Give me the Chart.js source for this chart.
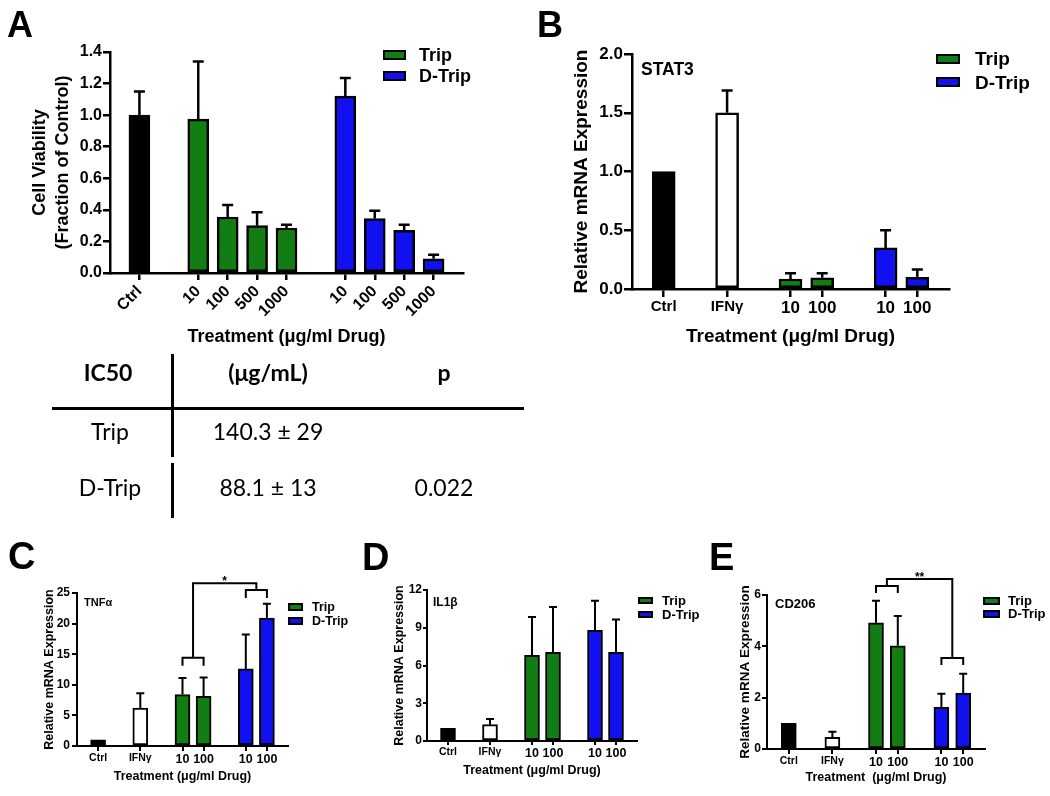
<!DOCTYPE html>
<html><head><meta charset="utf-8">
<script src="https://cdn.jsdelivr.net/npm/chart.js@4.4.1/dist/chart.umd.min.js"></script>
<style>
html,body{margin:0;padding:0;background:#fff;}
#page{position:relative;width:1050px;height:796px;overflow:hidden;background:#fff;}
canvas{position:absolute;left:0;top:0;}
.t{position:absolute;white-space:nowrap;font-family:"Liberation Sans",Arial,sans-serif;font-weight:bold;color:#000;}
.ln{position:absolute;background:#000;}
.box{position:absolute;box-sizing:border-box;border:2px solid #000;}
</style></head><body><div id="page"></div>
<script>
// ================= DATA =================
const ctrlLabel = 'Ctrl';
const ifnLabel = 'IFNγ';
const doseLabelsA = ['10', '100', '500', '1000'];
const doseLabels = ['10', '100'];

// Panel A – cell viability (fraction of control)
const aCtrl = [1.00];
const aCtrlErr = [0.15];
const aTrip = [0.975, 0.355, 0.30, 0.285];
const aTripErr = [0.365, 0.075, 0.085, 0.02];
const aDTrip = [1.12, 0.345, 0.27, 0.09];
const aDTripErr = [0.115, 0.05, 0.035, 0.025];
const aYTicks = [0, 0.2, 0.4, 0.6, 0.8, 1.0, 1.2, 1.4];

// Panel B – STAT3
const bCtrl = [1.0];
const bIFN = [1.5];
const bIFNErr = [0.19];
const bTrip = [0.085, 0.095];
const bTripErr = [0.05, 0.04];
const bDTrip = [0.35, 0.10];
const bDTripErr = [0.15, 0.065];
const bYTicks = [0, 0.5, 1.0, 1.5, 2.0];

// Panel C – TNFα
const cCtrl = [1.0];
const cIFN = [6.2];
const cIFNErr = [2.4];
const cTrip = [8.4, 8.1];
const cTripErr = [2.7, 3.1];
const cDTrip = [12.6, 20.9];
const cDTripErr = [5.6, 2.35];
const cYTicks = [0, 5, 10, 15, 20, 25];

// Panel D – IL1β
const dCtrl = [1.0];
const dIFN = [1.3];
const dIFNErr = [0.45];
const dTrip = [6.8, 7.05];
const dTripErr = [3.05, 3.6];
const dDTrip = [8.8, 7.05];
const dDTripErr = [2.35, 2.6];
const dYTicks = [0, 3, 6, 9, 12];

// Panel E – CD206
const eCtrl = [1.0];
const eIFN = [0.45];
const eIFNErr = [0.22];
const eTrip = [4.92, 4.02];
const eTripErr = [0.86, 1.16];
const eDTrip = [1.62, 2.18];
const eDTripErr = [0.53, 0.75];
const eYTicks = [0, 2, 4, 6];

// IC50 table
const tableHeader = ['IC50', '(μg/mL)', 'p'];
const tableRows = [['Trip', '140.3 ± 29', ''], ['D-Trip', '88.1 ± 13', '0.022']];

// ================= STYLE =================
const FONT = '"Liberation Sans", Arial, Helvetica, sans-serif';
const TFONT = 'Lato, "Open Sans", sans-serif';
const BLACK = '#000000', WHITE = '#ffffff', GREEN = '#127d12', BLUE = '#1010f0';
Chart.defaults.font.family = FONT;
Chart.defaults.color = '#000';

const page = document.getElementById('page');

function addText(txt, x, yc, size, o) {
  o = o || {};
  const d = document.createElement('div');
  d.className = 't';
  d.textContent = txt;
  d.style.fontSize = size + 'px';
  d.style.lineHeight = size + 'px';
  d.style.top = (yc - size * (o.k != null ? o.k : 0.49)) + 'px';
  if (o.family) d.style.fontFamily = o.family;
  if (o.weight) d.style.fontWeight = o.weight;
  if (o.align === 'center') { d.style.left = (x - 150) + 'px'; d.style.width = '300px'; d.style.textAlign = 'center'; }
  else d.style.left = x + 'px';
  page.appendChild(d);
}
function addLine(x, y, w, h) {
  const d = document.createElement('div');
  d.className = 'ln';
  d.style.left = x + 'px'; d.style.top = y + 'px'; d.style.width = w + 'px'; d.style.height = h + 'px';
  page.appendChild(d);
}

function buildData(groups) {
  const labels = [''];
  const starts = [];
  groups.forEach(g => {
    starts.push(labels.length);
    g.ticks.forEach(t => labels.push(t));
    labels.push('');
  });
  const datasets = groups.map((g, gi) => {
    const data = labels.map(() => null);
    const errors = labels.map(() => null);
    g.values.forEach((v, k) => {
      data[starts[gi] + k] = v;
      errors[starts[gi] + k] = g.errors ? g.errors[k] : null;
    });
    return { label: g.name, data, errors, backgroundColor: g.fill, borderColor: '#000', inLegend: !!g.legend };
  });
  return { labels, datasets };
}

const errorBarPlugin = {
  id: 'errorBars',
  afterDatasetsDraw(chart, args, opts) {
    const ctx = chart.ctx, ys = chart.scales.y;
    ctx.save();
    ctx.strokeStyle = '#000';
    ctx.lineWidth = opts.width;
    chart.data.datasets.forEach((ds, i) => {
      const meta = chart.getDatasetMeta(i);
      ds.data.forEach((v, j) => {
        const e = ds.errors[j];
        if (v == null || !e) return;
        const el = meta.data[j];
        const top = ys.getPixelForValue(v + e);
        ctx.beginPath();
        ctx.moveTo(el.x, el.y);
        ctx.lineTo(el.x, top);
        ctx.moveTo(el.x - opts.cap, top);
        ctx.lineTo(el.x + opts.cap, top);
        ctx.stroke();
      });
    });
    ctx.restore();
  }
};

const bracketPlugin = {
  id: 'brackets',
  afterDatasetsDraw(chart, args, opts) {
    if (!opts || !opts.pairs) return;
    const ctx = chart.ctx, ys = chart.scales.y, xs = chart.scales.x;
    ctx.save();
    ctx.strokeStyle = '#000';
    ctx.fillStyle = '#000';
    ctx.lineWidth = opts.width;
    opts.pairs.forEach(pr => {
      const centers = pr.groups.map(g => {
        const ds = chart.data.datasets.find(d => d.label === g.name);
        const idx = ds.data.map((v, i) => v == null ? -1 : i).filter(i => i >= 0);
        const x1 = xs.getPixelForValue(idx[0]);
        const x2 = xs.getPixelForValue(idx[idx.length - 1]);
        const yy = ys.getPixelForValue(g.level);
        ctx.beginPath();
        ctx.moveTo(x1, yy + opts.drop); ctx.lineTo(x1, yy); ctx.lineTo(x2, yy); ctx.lineTo(x2, yy + opts.drop);
        ctx.stroke();
        return { x: (x1 + x2) / 2, y: yy };
      });
      const yt = ys.getPixelForValue(pr.top);
      ctx.beginPath();
      ctx.moveTo(centers[0].x, centers[0].y); ctx.lineTo(centers[0].x, yt);
      ctx.lineTo(centers[1].x, yt); ctx.lineTo(centers[1].x, centers[1].y);
      ctx.stroke();
      ctx.font = 'bold ' + opts.fontSize + 'px ' + FONT;
      ctx.textAlign = 'center';
      ctx.textBaseline = 'alphabetic';
      ctx.fillText(pr.label, (centers[0].x + centers[1].x) / 2, yt + opts.textDy);
    });
    ctx.restore();
  }
};

function makeChart(p) {
  const cv = document.createElement('canvas');
  cv.width = 1050; cv.height = 796;
  cv.style.width = '1050px'; cv.style.height = '796px';
  page.appendChild(cv);
  const { labels, datasets } = buildData(p.groups);
  datasets.forEach(ds => Object.assign(ds, {
    borderWidth: p.barBorder, borderSkipped: false, barThickness: p.barW, grouped: false
  }));
  const [x0, x1, y0, y1] = p.area;
  const bf = (size, lh) => ({ family: FONT, weight: 'bold', size, lineHeight: lh || 1.2 });
  const chart = new Chart(cv, {
    type: 'bar',
    data: { labels, datasets },
    options: {
      responsive: false, animation: false, devicePixelRatio: 1,
      layout: { padding: { left: p.L, top: y0, right: 1050 - x1, bottom: 796 - p.B } },
      plugins: {
        legend: { display: false }, tooltip: { enabled: false },
        errorBars: { width: p.errW, cap: p.cap },
        brackets: p.brackets || {}
      },
      scales: {
        x: {
          type: 'category', offset: false,
          grid: {
            display: true, drawOnChartArea: false, drawTicks: true, offset: false,
            tickLength: p.tickLen, lineWidth: p.axisW,
            color: ctx => labels[ctx.index] ? '#000' : 'rgba(0,0,0,0)'
          },
          border: { display: true, color: '#000', width: p.axisW },
          ticks: {
            autoSkip: false, color: '#000', padding: p.xTickPad,
            maxRotation: p.rot, minRotation: p.rot,
            font: ctx => bf(/^\d+$/.test(labels[ctx.index] || '') ? p.xTickNum : p.xTickTxt)
          },
          title: { display: true, text: p.xTitle, color: '#000', font: bf(p.xTitleSize), padding: 0 },
          afterFit: s => { s.height = p.B - y1; }
        },
        y: {
          min: 0, max: p.yTicks[p.yTicks.length - 1],
          afterBuildTicks: s => { s.ticks = p.yTicks.map(v => ({ value: v })); },
          grid: { display: true, drawOnChartArea: false, drawTicks: true, tickLength: p.tickLen, lineWidth: p.axisW, color: '#000' },
          border: { display: true, color: '#000', width: p.axisW },
          ticks: { color: '#000', padding: p.yTickPad, font: bf(p.yTickSize), callback: v => p.yFmt(v) },
          title: {
            display: true, text: p.yTitle, color: '#000',
            font: bf(p.yTitleSize, p.yTitleLH || 1.2), padding: { top: p.yTitlePad, bottom: 0 }
          },
          afterFit: s => { s.width = x0 - p.L; }
        }
      }
    },
    plugins: [errorBarPlugin, bracketPlugin]
  });
  // HTML legend built from the chart's datasets
  const lg = p.legend;
  chart.data.datasets.filter(d => d.inLegend).forEach((d, k) => {
    const b = document.createElement('div');
    b.className = 'box';
    b.style.left = lg.x + 'px';
    b.style.top = (lg.y + k * lg.gap) + 'px';
    b.style.width = lg.w + 'px';
    b.style.height = lg.h + 'px';
    b.style.borderWidth = lg.bw + 'px';
    b.style.background = d.backgroundColor;
    page.appendChild(b);
    addText(d.label, lg.tx, lg.y + k * lg.gap + lg.h / 2, lg.size);
  });
  return chart;
}

const fmt1 = v => v.toFixed(1);
const fmt0 = v => String(v);

// ----- Panel A -----
makeChart({
  groups: [
    { name: 'Ctrl', ticks: [ctrlLabel], values: aCtrl, errors: aCtrlErr, fill: BLACK },
    { name: 'Trip', ticks: doseLabelsA, values: aTrip, errors: aTripErr, fill: GREEN, legend: true },
    { name: 'D-Trip', ticks: doseLabelsA, values: aDTrip, errors: aDTripErr, fill: BLUE, legend: true }
  ],
  area: [110, 463, 52, 273], L: 20, B: 348,
  yTicks: aYTicks, yFmt: fmt1, yTickSize: 16, yTickPad: 1,
  yTitle: ['Cell Viability', '(Fraction of Control)'], yTitleSize: 18, yTitleLH: 1.3, yTitlePad: 8.3,
  xTitle: 'Treatment (μg/ml Drug)', xTitleSize: 18, xTickNum: 16, xTickTxt: 16, xTickPad: 2, rot: 45,
  tickLen: 7, axisW: 2.5, barBorder: 2.5, barW: 21, errW: 2.5, cap: 5.5,
  legend: { x: 383, y: 50, gap: 21, w: 23, h: 10, bw: 2, tx: 419, size: 18 }
});

// ----- Panel B -----
makeChart({
  groups: [
    { name: 'Ctrl', ticks: [ctrlLabel], values: bCtrl, errors: null, fill: BLACK },
    { name: 'IFNγ', ticks: [ifnLabel], values: bIFN, errors: bIFNErr, fill: WHITE },
    { name: 'Trip', ticks: doseLabels, values: bTrip, errors: bTripErr, fill: GREEN, legend: true },
    { name: 'D-Trip', ticks: doseLabels, values: bDTrip, errors: bDTripErr, fill: BLUE, legend: true }
  ],
  area: [632, 949, 54, 289], L: 560, B: 348.4,
  yTicks: bYTicks, yFmt: fmt1, yTickSize: 17, yTickPad: 1,
  yTitle: 'Relative mRNA Expression', yTitleSize: 19, yTitlePad: 10.6,
  xTitle: 'Treatment (μg/ml Drug)', xTitleSize: 19, xTickNum: 17, xTickTxt: 15, xTickPad: 1, rot: 0,
  tickLen: 8, axisW: 2.5, barBorder: 2.5, barW: 23, errW: 2.5, cap: 5.5,
  legend: { x: 936, y: 53.5, gap: 23.5, w: 24, h: 10, bw: 2, tx: 975, size: 19 }
});

// ----- Panel C -----
makeChart({
  groups: [
    { name: 'Ctrl', ticks: [ctrlLabel], values: cCtrl, errors: null, fill: BLACK },
    { name: 'IFNγ', ticks: [ifnLabel], values: cIFN, errors: cIFNErr, fill: WHITE },
    { name: 'Trip', ticks: doseLabels, values: cTrip, errors: cTripErr, fill: GREEN, legend: true },
    { name: 'D-Trip', ticks: doseLabels, values: cDTrip, errors: cDTripErr, fill: BLUE, legend: true }
  ],
  area: [77, 288, 593, 746], L: 30, B: 784.5,
  yTicks: cYTicks, yFmt: fmt0, yTickSize: 12, yTickPad: 2,
  yTitle: 'Relative mRNA Expression', yTitleSize: 12.5, yTitlePad: 12.5,
  xTitle: 'Treatment (μg/ml Drug)', xTitleSize: 12.5, xTickNum: 12.5, xTickTxt: 10.5, xTickPad: 1, rot: 0,
  tickLen: 5, axisW: 2, barBorder: 2, barW: 15, errW: 2, cap: 4,
  brackets: {
    width: 2, drop: 8, fontSize: 12, textDy: 2,
    pairs: [{ groups: [{ name: 'Trip', level: 14.4 }, { name: 'D-Trip', level: 25.5 }], top: 26.6, label: '*' }]
  },
  legend: { x: 288, y: 603, gap: 14, w: 15, h: 7.5, bw: 2, tx: 312, size: 12.5 }
});

// ----- Panel D -----
makeChart({
  groups: [
    { name: 'Ctrl', ticks: [ctrlLabel], values: dCtrl, errors: null, fill: BLACK },
    { name: 'IFNγ', ticks: [ifnLabel], values: dIFN, errors: dIFNErr, fill: WHITE },
    { name: 'Trip', ticks: doseLabels, values: dTrip, errors: dTripErr, fill: GREEN, legend: true },
    { name: 'D-Trip', ticks: doseLabels, values: dDTrip, errors: dDTripErr, fill: BLUE, legend: true }
  ],
  area: [427, 637, 590, 741], L: 380, B: 778.5,
  yTicks: dYTicks, yFmt: fmt0, yTickSize: 12, yTickPad: 1,
  yTitle: 'Relative mRNA Expression', yTitleSize: 12.5, yTitlePad: 12.5,
  xTitle: 'Treatment (μg/ml Drug)', xTitleSize: 12.5, xTickNum: 12.5, xTickTxt: 10.5, xTickPad: 1, rot: 0,
  tickLen: 4, axisW: 2, barBorder: 2, barW: 15, errW: 2, cap: 4,
  legend: { x: 638, y: 597, gap: 14, w: 15, h: 7, bw: 2, tx: 662, size: 13 }
});

// ----- Panel E -----
makeChart({
  groups: [
    { name: 'Ctrl', ticks: [ctrlLabel], values: eCtrl, errors: null, fill: BLACK },
    { name: 'IFNγ', ticks: [ifnLabel], values: eIFN, errors: eIFNErr, fill: WHITE },
    { name: 'Trip', ticks: doseLabels, values: eTrip, errors: eTripErr, fill: GREEN, legend: true },
    { name: 'D-Trip', ticks: doseLabels, values: eDTrip, errors: eDTripErr, fill: BLUE, legend: true }
  ],
  area: [767, 985, 595, 749], L: 720, B: 785.5,
  yTicks: eYTicks, yFmt: fmt0, yTickSize: 12, yTickPad: 1,
  yTitle: 'Relative mRNA Expression', yTitleSize: 13.5, yTitlePad: 16.9,
  xTitle: 'Treatment  (μg/ml Drug)', xTitleSize: 12.5, xTickNum: 12.5, xTickTxt: 10.5, xTickPad: 1, rot: 0,
  tickLen: 5, axisW: 2, barBorder: 2, barW: 15, errW: 2, cap: 4,
  brackets: {
    width: 2, drop: 7, fontSize: 12, textDy: 2,
    pairs: [{ groups: [{ name: 'Trip', level: 6.35 }, { name: 'D-Trip', level: 3.55 }], top: 6.62, label: '**' }]
  },
  legend: { x: 983, y: 597, gap: 13, w: 17, h: 7.5, bw: 2, tx: 1008, size: 13 }
});

// ----- Panel letters & in-plot gene labels -----
addText('A', 7, 25, 36);
addText('B', 537, 25, 36);
addText('C', 8, 556, 38);
addText('D', 362, 557, 38);
addText('E', 709, 557, 38);
addText('STAT3', 641, 70, 17.5);
addText('TNFα', 84, 602, 11);
addText('IL1β', 433, 602, 12);
addText('CD206', 775, 603, 13);

// ----- IC50 table -----
const colX = [108, 268, 444];
const rowY = [373, 432, 488];
tableHeader.forEach((h, c) => addText(h, colX[c], rowY[0], 23, { family: TFONT, weight: 'bold', align: 'center', k: 0.53 }));
tableRows.forEach((r, ri) => r.forEach((v, c) => {
  if (v) addText(v, c === 0 ? 110 : colX[c], rowY[ri + 1], 23, { family: TFONT, weight: 'normal', align: 'center', k: 0.53 });
}));
addLine(52, 406.5, 472, 3);
addLine(170.5, 354, 3, 103);
addLine(170.5, 463, 3, 55);
</script>
</body></html>
